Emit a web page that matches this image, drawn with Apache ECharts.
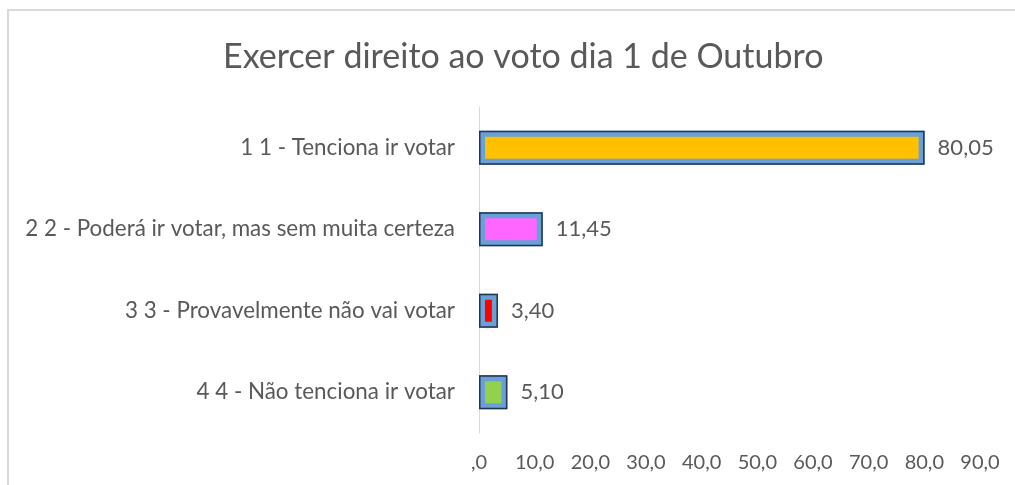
<!DOCTYPE html>
<html lang="pt">
<head>
    <meta http-equiv="Content-Type" Content="text/html; charset=utf-8">
    <script src="https://cdn.jsdelivr.net/npm/echarts@6/dist/echarts.min.js"></script>
    <style>
        html, body { margin:0; padding:0; background:#fff; overflow:hidden; }
        .frame { position:absolute; left:7px; top:9px; width:1100px; height:600px; border:2px solid #d9d9d9; }
        #main { position:absolute; left:0; top:0; width:1015px; height:485px; }
    </style>
</head>
<body>
<div class="frame"></div>
<div id="main"></div>
<script type="text/javascript">
    var categorias = ['1 1 - Tenciona ir votar', '2 2 - Poderá ir votar, mas sem muita certeza', '3 3 - Provavelmente não vai votar', '4 4 - Não tenciona ir votar'];
    var valores = [80.05, 11.45, 3.40, 5.10];
    var cores = ['#ffc000', '#ff66ff', '#ff0000', '#92d050'];
    var ticks = [0, 10, 20, 30, 40, 50, 60, 70, 80, 90];

    var fonte = 'Lato';
    var cinza = '#595959';

    function fmtTick(v) {
        return v === 0 ? ',0' : v.toFixed(1).replace('.', ',');
    }

    var myChart = echarts.init(document.getElementById('main'));
    myChart.setOption({
        animation: false,
        title: {
            text: 'Exercer direito ao voto dia 1 de Outubro',
            left: 218,
            top: 35,
            textStyle: { fontFamily: fonte, fontSize: 34, fontWeight: 'normal', color: cinza }
        },
        grid: { left: 479, right: 35, top: 107, bottom: 52 },
        xAxis: {
            type: 'value',
            min: ticks[0],
            max: ticks[ticks.length - 1],
            interval: 10,
            axisLine: { show: false },
            axisTick: { show: false },
            splitLine: { show: false },
            axisLabel: { formatter: fmtTick, fontFamily: fonte, fontSize: 20, color: cinza, margin: 20 }
        },
        yAxis: {
            type: 'category',
            inverse: true,
            data: categorias,
            axisLine: { lineStyle: { color: '#d9d9d9', width: 1 } },
            axisTick: { show: false },
            axisLabel: { fontFamily: fonte, fontSize: 22.4, color: cinza, margin: 24 }
        },
        series: [{
            // barra com preenchimento e faixa azul
            type: 'bar',
            data: valores.map(function (v, i) { return { value: v, itemStyle: { color: cores[i] } }; }),
            barWidth: 34,
            itemStyle: { borderColor: '#6a9fd8', borderWidth: 6 },
            label: {
                show: true,
                position: 'right',
                distance: 13,
                formatter: function (p) { return p.value.toFixed(2).replace('.', ','); },
                fontFamily: fonte, fontSize: 22, color: cinza
            },
            z: 2
        }, {
            // contorno escuro por cima
            type: 'bar',
            data: valores,
            barWidth: 34,
            barGap: '-100%',
            silent: true,
            itemStyle: { color: 'transparent', borderColor: '#1f3554', borderWidth: 1.5 },
            z: 3
        }]
    });
</script>
</body>
</html>
